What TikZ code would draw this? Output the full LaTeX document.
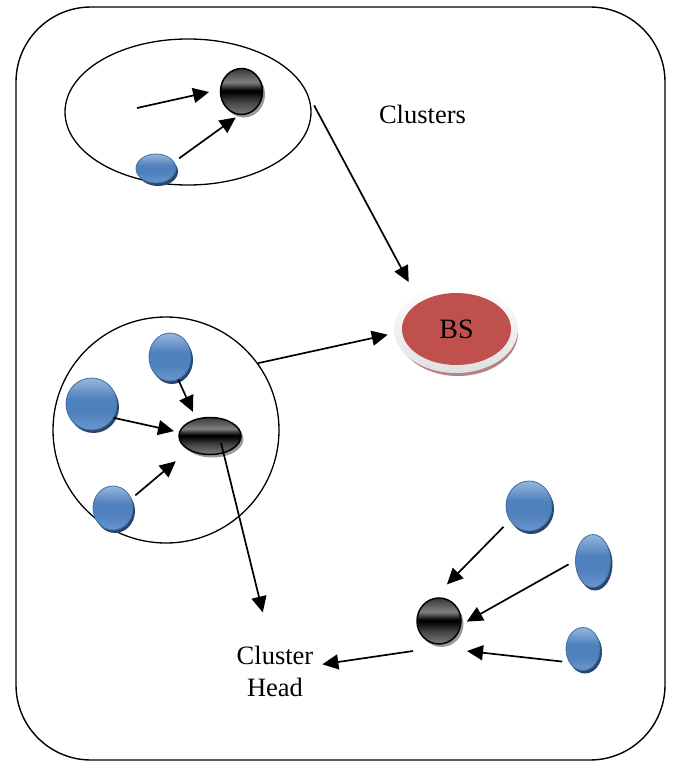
\documentclass[tikz,border=0pt]{standalone}
\usepackage{fontspec}
\setmainfont{Liberation Serif}
\usetikzlibrary{shapes.geometric,arrows.meta,shadows}
\definecolor{ballblue}{HTML}{4F81BD}
\definecolor{balltop}{HTML}{97B6DE}
\definecolor{ballbot}{HTML}{6A96CE}
\definecolor{balledge}{HTML}{41719F}
\definecolor{ballshade}{HTML}{284670}
\definecolor{bsred}{HTML}{C0504D}
\definecolor{bsrim}{HTML}{B58585}

% glossy black: dark top, light band above a thin black waist, lighter bottom
\pgfdeclareverticalshading{glossblack}{100bp}{%
  color(0bp)=(black!52); color(25bp)=(black!52); color(38bp)=(black!72);
  color(48bp)=(black!96); color(50bp)=(black); color(52bp)=(black!96);
  color(60bp)=(black!50); color(75bp)=(black!78); color(100bp)=(black!78)}
% blue ball: pale top fading to mid blue
\pgfdeclareverticalshading{glossblue}{100bp}{%
  color(0bp)=(ballbot); color(25bp)=(ballbot); color(42bp)=(ballblue);
  color(55bp)=(ballblue); color(75bp)=(balltop); color(100bp)=(balltop)}

\begin{document}
\begin{tikzpicture}[x=1pt,y=-1pt,
  every node/.style={inner sep=0pt},
  member/.style={ellipse, draw=balledge, line width=0.8pt, shading=glossblue,
    drop shadow={shadow xshift=2pt, shadow yshift=-3pt, fill=ballshade, opacity=1}},
  chnode/.style={ellipse, draw=black, line width=1.5pt, shading=glossblack,
    drop shadow={shadow xshift=2.5pt, shadow yshift=-3pt, fill=black!40, opacity=1}},
  zone/.style={ellipse, draw=black, line width=1.3pt},
  conn/.style={line width=1.7pt, -{Triangle[length=16pt,width=15pt]}},
  txt/.style={font=\fontsize{26.5}{32}\selectfont}
]
\useasboundingbox (0,0) rectangle (672,768);

% outer frame
\node[draw, line width=1.4pt, rounded corners=75pt,
      minimum width=649pt, minimum height=753pt] (frame) at (340.5,383.5) {};

% cluster areas
\node[zone, minimum width=246pt, minimum height=146pt] (z1) at (188,112) {};
\node[zone, minimum width=226pt, minimum height=226pt] (z2) at (166,430) {};

% upper cluster
\node[chnode, minimum width=42pt, minimum height=46pt] (k1) at (241.5,91.5) {};
\node[member, minimum width=40pt, minimum height=29pt] (b1) at (156,168.5) {};
\coordinate (src) at (137,108);

% base station
\node[ellipse, fill=bsrim, minimum width=120pt, minimum height=86pt] (bsbase) at (458,333) {};
\node[ellipse, top color=white, bottom color=black!12,
      minimum width=124pt, minimum height=88pt] (bs) at (456,329) {};
\node[ellipse, fill=bsred, minimum width=109pt, minimum height=72pt,
      font=\fontsize{28}{32}\selectfont] (bscore) at (456.5,329) {BS};

\node[txt, anchor=base] (clusters) at (422.5,123) {Clusters};

% middle cluster
\node[chnode, minimum width=62pt, minimum height=37pt] (k2) at (210,436) {};
\node[member, minimum width=42pt, minimum height=48pt] (b2) at (170,357) {};
\node[member, minimum width=51pt, minimum height=52pt] (b3) at (91.5,404) {};
\node[member, minimum width=40pt, minimum height=44pt] (b4) at (113,508) {};

% lower right group
\node[chnode, minimum width=44pt, minimum height=46pt] (k3) at (439,621) {};
\node[member, minimum width=46pt, minimum height=50pt] (b5) at (529,506) {};
\node[member, minimum width=35pt, minimum height=53pt] (b6) at (593,561) {};
\node[member, minimum width=34pt, minimum height=43pt] (b7) at (583,649) {};

\node[txt, align=center] (chead) at (275,671) {Cluster\\Head};

\coordinate (k3in) at ([shift={(28,30)}]k3.center);
\coordinate (k3out) at ([shift={(-26,30)}]k3.center);

% connectors
\draw[conn, shorten >=11pt] (src) -- (k1.175);
\draw[conn, shorten <=6pt, shorten >=4pt] (b1.20) -- (k1.264);
\draw[conn, shorten <=14pt, shorten >=15pt] (z1.9) -- (bs.140);
\draw[conn, shorten >=6.5pt] (z2.36) -- (bs.184);
\draw[conn, shorten >=7.5pt] (b2.-70) -- (k2.129);
\draw[conn, shorten >=5pt] (b3.-32) -- (k2.173);
\draw[conn, shorten <=5pt, shorten >=17pt] (b4.27) -- (k2.214);
\draw[conn, shorten <=-10.6pt, shorten >=34pt] (k2.-52) -- (chead.99);
\draw[conn, shorten <=9pt, shorten >=19pt] (b5.217) -- (k3.103);
\draw[conn, shorten <=7.5pt, shorten >=6pt] (b6.179) -- (k3.-9);
\draw[conn, shorten <=7pt] (b7.224) -- (k3in);
\draw[conn, shorten >=9pt] (k3out) -- (chead.8);
\end{tikzpicture}
\end{document}
